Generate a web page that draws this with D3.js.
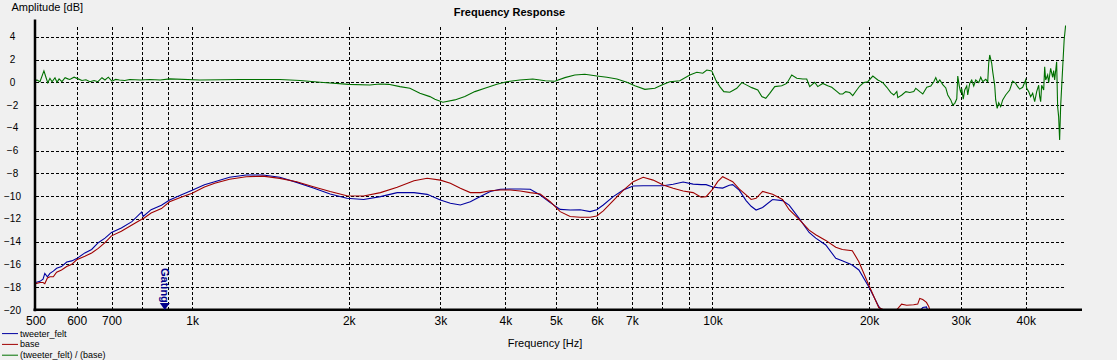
<!DOCTYPE html>
<html><head><meta charset="utf-8">
<script src="https://cdn.jsdelivr.net/npm/d3@7"></script>
<style>
body{margin:0;background:#f0f0f0;}
svg{display:block;font-family:"Liberation Sans",Arial,sans-serif;}
</style>
</head><body>
<svg id="chart" width="1117" height="360"></svg>
<script>
// ---------- data ----------
const gridFreqs = [600,700,800,900,1000,2000,3000,4000,5000,6000,7000,8000,9000,10000,20000,30000,40000];
const labelFreqs = [500,600,700,1000,2000,3000,4000,5000,6000,7000,10000,20000,30000,40000];
const labelTexts = ["500","600","700","1k","2k","3k","4k","5k","6k","7k","10k","20k","30k","40k"];
const dbTicks = [4,2,0,-2,-4,-6,-8,-10,-12,-14,-16,-18,-20];
const dbGrid = [4,2,0,-2,-4,-6,-8,-10,-12,-14,-16,-18];

const seriesNames = ["tweeter_felt","base","(tweeter_felt) / (base)"];
const seriesColors = ["#0000a0","#a00000","#007000"];

const respFreq = [500,510,517,521,527,533,541,549,561,574,587,600,622,641,660,680,700,731,766,800,805,834,873,905,952,1000,1056,1105,
  1180,1270,1368,1474,1588,1710,1842,1983,2136,2301,2478,2669,2829,
  3000,3135,3277,3425,3580,3741,3910,4087,4272,4465,4666,4877,5097,5327,5568,5819,5992,6168,6446,6737,7042,7360,7692,8040,8403,8783,9180,9510,9722,
  10012,10233,10461,10774,10936,11265,11604,11867,12129,12484,13047,13634,14040,14674,15337,15794,16509,17256,17765,18566,19114,19970,20869,21330,22600,
  23092,23620,24350,24800,25026,25360,25780,26040,26280];
const tweeterDb = [-17.6,-17.5,-17.3,-16.8,-17.1,-16.8,-16.6,-16.35,-16.2,-15.8,-15.7,-15.5,-15.0,-14.7,-14.1,-13.7,-13.2,-12.8,-12.25,-11.4,-11.8,-11.2,-10.8,-10.35,-9.9,-9.5,-9.0,-8.74,
  -8.35,-8.15,-8.15,-8.35,-8.8,-9.3,-9.82,-10.2,-10.3,-10.05,-9.7,-9.7,-9.85,
  -10.35,-10.64,-10.79,-10.5,-10.05,-9.6,-9.4,-9.38,-9.38,-9.4,-9.91,-10.58,-11.17,-11.23,-11.2,-11.37,-11.2,-10.79,-10.05,-9.47,-9.12,-9.1,-9.1,-9.1,-8.97,-8.77,-8.95,-9.0,-9.0,
  -9.2,-9.26,-9.3,-9.05,-9.0,-9.5,-10.4,-10.9,-11.23,-11.0,-10.3,-10.4,-10.8,-11.96,-13.2,-13.7,-14.3,-15.47,-15.68,-16.06,-16.5,-17.97,-19.7,-20.3,-20.5,
  -20.5,-20.5,-20.5,-20.3,-20.1,-19.8,-19.75,-20.3,-20.5];
const baseDb = [-17.7,-17.6,-17.6,-17.7,-17.2,-17.1,-17.1,-16.7,-16.5,-16.2,-16.0,-15.6,-15.3,-15.0,-14.6,-14.1,-13.5,-13.1,-12.55,-12.05,-12.0,-11.5,-11.1,-10.5,-10.1,-9.76,-9.2,-8.88,
  -8.53,-8.3,-8.25,-8.45,-8.75,-9.18,-9.6,-9.97,-10.0,-9.7,-9.23,-8.65,-8.44,
  -8.6,-8.88,-9.32,-9.7,-9.7,-9.53,-9.47,-9.47,-9.55,-9.7,-9.82,-10.5,-11.37,-11.8,-11.87,-11.87,-11.75,-11.3,-10.4,-9.5,-8.74,-8.35,-8.6,-9.03,-9.32,-9.56,-9.7,-10.1,-10.05,
  -9.4,-8.74,-8.3,-8.6,-8.74,-9.4,-9.9,-10.3,-10.2,-9.6,-9.85,-10.3,-11.2,-12.05,-13.0,-13.4,-13.9,-14.5,-14.7,-14.8,-15.77,-17.82,-19.8,-20.0,-20.0,
  -19.5,-19.6,-19.55,-19.5,-19.0,-19.1,-19.35,-19.7,-20.3];

const ratioFreq = [500,503,510,519,524,528,533,538,545,550,555,562,570,577,582,593,604,614,625,636,648,659,671,680,690,701,713,725,742,759,795,829,868,906,
  1035,1237,1475,1612,1763,2000,2195,2293,2385,2508,2621,2740,2864,2928,3033,3198,3343,3494,3652,3851,4025,4264,4515,4773,4978,5204,5439,5685,5996,
  6267,6551,6847,7094,7414,7750,7992,8279,8654,9046,9331,9582,9752,9969,10146,10330,10516,10799,11137,11386,11640,11900,12221,12440,12661,12884,
  13172,13588,13893,14203,14520,14910,15175,15378,15722,15933,16290,16654,16952,17333,17567,17800,18036,18359,18603,18937,19188,19532,19883,20332,
  20787,21252,21630,22016,22309,22608,22708,23115,23528,23946,24373,24589,25027,25364,25817,26278,26628,26865,27103,27345,27709,28080,28327,28706,
  28961,29219,29478,29609,29806,30004,30132,30333,30535,30806,30941,31218,31496,31777,32059,32490,32778,33071,33511,33806,33953,34105,34407,34559,
  34865,35019,35252,35487,35803,36121,36604,37256,37755,38260,38598,38941,39461,39988,40165,40521,40883,41246,41614,41984,42358,42546,42735,42922,
  43306,43497,43689,44075,44270,44663,45058,45259,45458,45860,46065,46268,46472,46678,47095,47409,47726];
const ratioDb = [0.1,0.2,0.05,1.0,0.4,-0.05,0.35,0.05,0.4,0.0,0.3,0.05,0.4,0.3,0.25,0.45,0.3,0.16,0.22,0.05,0.16,0.05,0.4,0.2,0.45,0.1,0.25,0.2,0.16,0.25,0.2,0.25,0.2,0.3,
  0.2,0.25,0.25,0.16,0.0,-0.18,-0.24,-0.15,-0.18,-0.38,-0.53,-0.97,-1.26,-1.5,-1.76,-1.55,-1.26,-0.82,-0.53,-0.18,0.05,0.2,0.29,0.14,0.09,0.41,0.64,0.7,0.55,
  0.44,0.29,0.0,-0.3,-0.62,-0.53,-0.24,0.05,0.14,0.64,0.88,0.8,1.08,1.0,0.2,-0.38,-0.82,-0.88,-0.53,-0.03,-0.25,-0.47,-0.68,-1.26,-1.41,-0.97,
  -0.38,-0.3,-0.1,0.64,0.35,0.29,0.29,-0.38,0.0,-0.38,-0.1,-0.3,-0.44,-0.8,-1.03,-1.03,-0.82,-0.9,-1.17,-0.68,-0.33,-0.03,0.05,0.55,
  0.2,-0.03,-0.44,-0.91,-1.12,-0.82,-1.35,-1.12,-0.82,-0.9,-0.82,-0.53,-0.82,-1.03,-0.44,-0.33,0.05,0.41,-0.03,0.2,-0.21,-0.5,-1.12,-1.55,
  -2.0,-1.85,-1.45,0.55,-0.33,-0.9,-0.55,-1.48,-0.68,-0.33,-1.12,-0.1,0.2,-0.33,0.2,-0.03,0.44,0.05,0.26,0.05,1.67,2.4,1.67,0.94,
  -0.26,-1.55,-2.3,-1.8,-2.14,-1.55,-1.12,-0.68,0.1,-0.1,-0.39,-0.6,-0.44,0.2,-0.53,-0.82,-1.27,-0.97,-1.7,-0.82,-0.26,-1.27,-1.7,-0.26,
  -0.68,1.37,0.2,0.64,-0.03,1.23,0.44,1.02,0.2,1.81,-2.14,-3.02,-5.07,-2.14,1.23,3.72,5.04];

const gatingFreq = 886;

// ---------- layout ----------
const svg = d3.select("#chart");
const x = d3.scaleLog().domain([500, 47800]).range([35.5, 1066]);
const y = d3.scaleLinear().domain([-20, 5]).range([309.8, 25.4]);
const [x0, x1] = x.range();
const [yb, yt] = y.range();

svg.append("rect").attr("width",1117).attr("height",360).attr("fill","#f0f0f0");

// grid (vertical)
const gv = svg.append("g").attr("transform",`translate(0,${yb})`)
  .call(d3.axisBottom(x).tickValues(gridFreqs).tickSize(-(yb-yt)).tickFormat(""));
gv.select(".domain").remove();
gv.selectAll("line").attr("stroke","#000").attr("stroke-dasharray","3,2").attr("shape-rendering","crispEdges");

// grid (horizontal)
const gh = svg.append("g").attr("transform",`translate(${x0},0)`)
  .call(d3.axisLeft(y).tickValues(dbGrid).tickSize(-(x1-x0)).tickFormat(""));
gh.select(".domain").remove();
gh.selectAll("line").attr("stroke","#000").attr("stroke-dasharray","3,2").attr("shape-rendering","crispEdges");

// clip
svg.append("clipPath").attr("id","clip").append("rect")
  .attr("x",x0).attr("y",yt).attr("width",x1-x0).attr("height",yb-yt);

const line = d3.line().x(d=>x(d[0])).y(d=>y(d[1]));
const plot = svg.append("g").attr("clip-path","url(#clip)");
const series = [
  d3.zip(respFreq, tweeterDb),
  d3.zip(respFreq, baseDb),
  d3.zip(ratioFreq, ratioDb)
];
series.forEach((s,i)=>{
  plot.append("path").datum(s).attr("d",line).attr("fill","none")
    .attr("stroke",seriesColors[i]).attr("stroke-width",1.1);
});

// thick axes
svg.append("line").attr("x1",x0-0.5).attr("x2",x0-0.5).attr("y1",19.5).attr("y2",yb+1.5)
  .attr("stroke","#000").attr("stroke-width",2.5);
svg.append("line").attr("x1",x0-2).attr("x2",1082).attr("y1",yb).attr("y2",yb)
  .attr("stroke","#000").attr("stroke-width",2.5);

// x labels
const ax = svg.append("g").attr("transform",`translate(0,${yb})`)
  .call(d3.axisBottom(x).tickValues(labelFreqs).tickSize(0).tickPadding(7)
    .tickFormat((d,i)=>labelTexts[i]));
ax.select(".domain").remove();
ax.selectAll("text").attr("font-size","12px").attr("font-family","Liberation Sans, Arial, sans-serif").attr("fill","#000");

// y labels
const ay = svg.append("g").attr("transform",`translate(${x0},0)`)
  .call(d3.axisLeft(y).tickValues(dbTicks).tickSize(0));
ay.select(".domain").remove();
ay.selectAll("text").attr("x",-23).attr("text-anchor","middle")
  .attr("font-size","10px").attr("font-family","Liberation Sans, Arial, sans-serif").attr("fill","#000");

// titles
svg.append("text").attr("x",509.5).attr("y",16).attr("text-anchor","middle")
  .attr("font-size","11px").attr("font-weight","bold").text("Frequency Response");
svg.append("text").attr("x",11.5).attr("y",10.5).attr("font-size","11px").text("Amplitude [dB]");
svg.append("text").attr("x",545).attr("y",347).attr("text-anchor","middle").attr("font-size","11px").text("Frequency [Hz]");

// legend
const lg = svg.append("g");
seriesNames.forEach((n,i)=>{
  const by = 336.6 + i*10.8;
  lg.append("line").attr("x1",2).attr("x2",18).attr("y1",by-3).attr("y2",by-3)
    .attr("stroke",seriesColors[i]).attr("stroke-width",1);
  lg.append("text").attr("x",20).attr("y",by).attr("font-size","9px").text(n);
});

// gating marker
const gx = x(gatingFreq);
svg.append("text").attr("transform",`translate(${gx-4},268) rotate(90)`)
  .attr("font-size","11px").attr("font-weight","bold").attr("fill","#00008b").text("Gating");
svg.append("path").attr("d",`M${gx-5},303 L${gx+5},303 L${gx},310 Z`).attr("fill","#00008b");
</script>
</body></html>
